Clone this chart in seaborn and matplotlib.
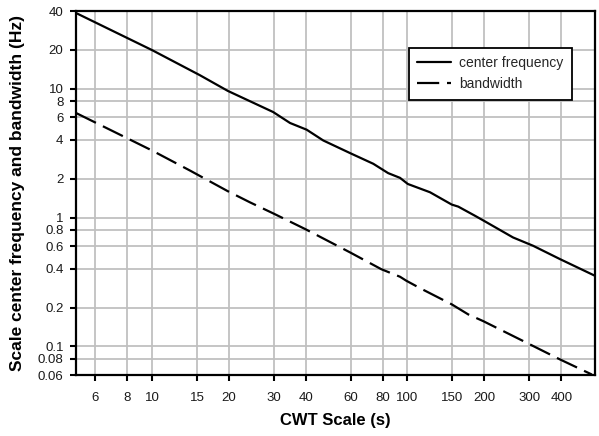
import matplotlib
matplotlib.use("Agg")
import matplotlib.pyplot as plt
from matplotlib.ticker import FixedLocator, NullLocator, FixedFormatter
import seaborn as sns
import pandas as pd

# Data
cf_scale = [5.04, 10, 15.4, 19.8, 29.8, 34.7, 40.3, 46.8, 59.6, 73.5, 84, 93.5,
            100.3, 122.5, 149, 158, 184, 201, 259, 310, 395, 542]
cf_freq = [38.6, 19.9, 12.7, 9.6, 6.58, 5.41, 4.80, 3.96, 3.16, 2.61, 2.21, 2.03,
           1.82, 1.57, 1.26, 1.215, 1.03, 0.933, 0.70, 0.604, 0.476, 0.353]

bw_scale = [5.04, 10, 14.1, 19.8, 24.2, 30, 39.7, 59.6, 79, 93.5, 99, 112, 149,
            173, 198, 292, 395, 527]
bw_freq = [6.47, 3.31, 2.31, 1.60, 1.31, 1.07, 0.815, 0.536, 0.397, 0.347, 0.323,
           0.283, 0.212, 0.177, 0.157, 0.107, 0.0793, 0.0605]

x_ticks = [6, 8, 10, 15, 20, 30, 40, 60, 80, 100, 150, 200, 300, 400]
x_tick_labels = ["6", "8", "10", "15", "20", "30", "40", "60", "80", "100", "150", "200", "300", "400"]
y_ticks = [0.06, 0.08, 0.1, 0.2, 0.4, 0.6, 0.8, 1, 2, 4, 6, 8, 10, 20, 40]
y_tick_labels = ["0.06", "0.08", "0.1", "0.2", "0.4", "0.6", "0.8", "1", "2", "4", "6", "8", "10", "20", "40"]

sns.set_style("white")
plt.rcParams["font.family"] = ["Liberation Sans", "DejaVu Sans"]

fig = plt.figure(figsize=(5.99, 4.36), dpi=100)
ax = fig.add_axes([76 / 599, 1 - 375 / 436, (595 - 76) / 599, (375 - 11) / 436])

df_cf = pd.DataFrame({"scale": cf_scale, "freq": cf_freq})
df_bw = pd.DataFrame({"scale": bw_scale, "freq": bw_freq})

sns.lineplot(data=df_cf, x="scale", y="freq", ax=ax, color="black", linewidth=1.6,
             label="center frequency", zorder=3)
sns.lineplot(data=df_bw, x="scale", y="freq", ax=ax, color="black", linewidth=1.6,
             label="bandwidth", zorder=3)
ax.lines[1].set_dashes([10, 3.5])

ax.set_xscale("log")
ax.set_yscale("log")
ax.set_xlim(5.04, 542)
ax.set_ylim(0.06, 40)

ax.xaxis.set_major_locator(FixedLocator(x_ticks))
ax.xaxis.set_major_formatter(FixedFormatter(x_tick_labels))
ax.xaxis.set_minor_locator(NullLocator())
ax.yaxis.set_major_locator(FixedLocator(y_ticks))
ax.yaxis.set_major_formatter(FixedFormatter(y_tick_labels))
ax.yaxis.set_minor_locator(NullLocator())

ax.grid(True, which="major", color="#c0c0c0", linewidth=1.3, zorder=0)
ax.set_axisbelow(True)

for sp in ax.spines.values():
    sp.set_visible(True)
    sp.set_color("black")
    sp.set_linewidth(1.6)

ax.tick_params(axis="both", which="major", direction="out", length=4, width=1.5,
               color="black", labelsize=9.5, labelcolor="#1a1a1a",
               bottom=True, left=True)
ax.tick_params(axis="y", pad=5)
ax.tick_params(axis="x", pad=8)

ax.set_xlabel("CWT Scale (s)", fontsize=12, fontweight="bold", color="black")
ax.set_ylabel("Scale center frequency and bandwidth (Hz)", fontsize=12.5,
              fontweight="bold", color="black")
ax.yaxis.set_label_coords((25 - 76) / 519, 0.5)
ax.xaxis.set_label_coords(0.5, -(413 - 375) / 364)

leg = ax.legend(loc="upper left", bbox_to_anchor=((409 - 76) / 519, 1 - (48 - 11) / 364),
                borderaxespad=0, frameon=True, fancybox=False, edgecolor="black",
                fontsize=10, handlelength=2.4, handletextpad=0.6, borderpad=0.6,
                labelspacing=0.5)
leg.get_frame().set_linewidth(1.3)
leg.get_frame().set_alpha(1)

fig.savefig("out.png", dpi=100)
